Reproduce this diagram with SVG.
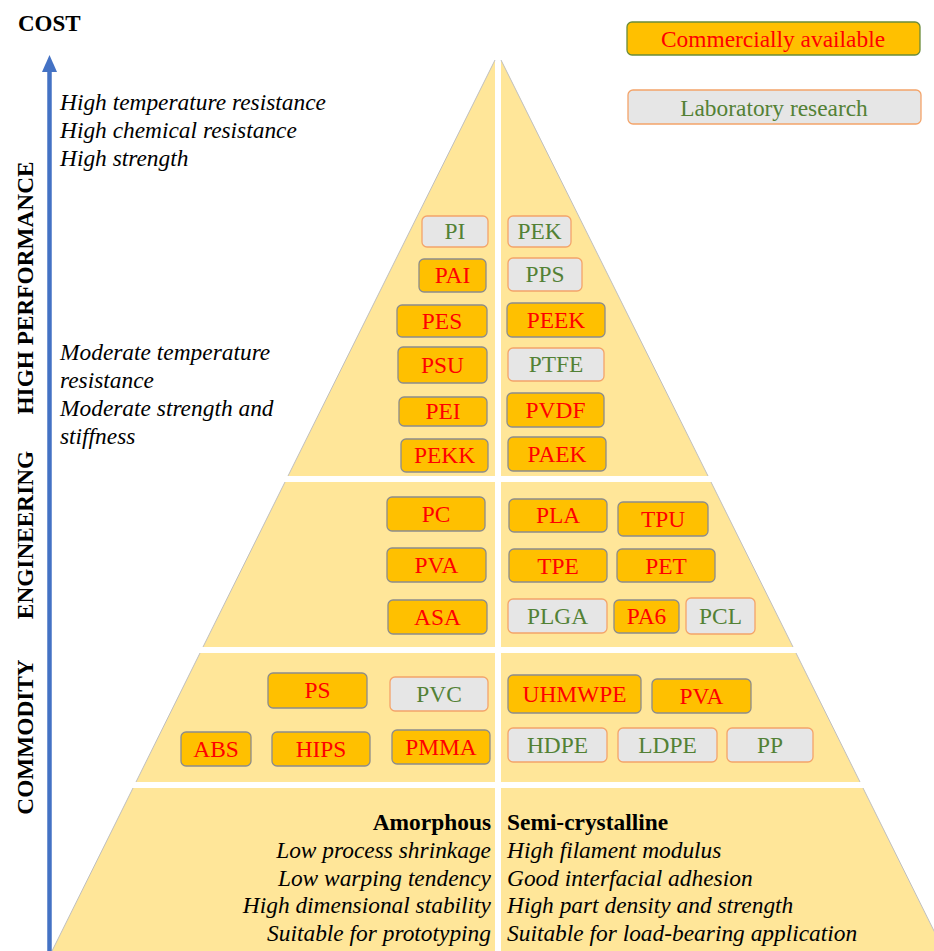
<svg xmlns="http://www.w3.org/2000/svg" width="934" height="951" viewBox="0 0 934 951">
<style>
.sec{fill:#FFE699;stroke:none}
.edge{stroke:#BFBFBF;stroke-width:1;fill:none}
.com rect{fill:#FFC000;stroke:#8C8C8C;stroke-width:1.3}
.com text{fill:#FF0000}
.lab rect{fill:#E6E6E6;stroke:#F4A46A;stroke-width:1.3}
.lab text{fill:#538135}
.bx{font-family:"Liberation Serif","Times New Roman",serif;font-size:23.4px;text-anchor:middle}
.it{font-family:"Liberation Serif","Times New Roman",serif;font-size:23.4px;font-style:italic;fill:#000}
.bd{font-family:"Liberation Serif","Times New Roman",serif;font-size:23.4px;font-weight:bold;fill:#000}
.vl{font-family:"Liberation Serif","Times New Roman",serif;font-size:23.3px;font-weight:bold;fill:#000;text-anchor:middle}
</style>
<rect width="934" height="951" fill="#FFFFFF"/>

<g id="pyramid">
<polygon class="sec" points="495,60 495,476 288,476"/>
<polygon class="sec" points="501,60 501,476 708,476"/>
<polygon class="sec" points="285,482 495,482 495,647 203,647"/>
<polygon class="sec" points="501,482 711,482 793,647 501,647"/>
<polygon class="sec" points="200,653 495,653 495,782 136,782"/>
<polygon class="sec" points="501,653 796,653 860,782 501,782"/>
<polygon class="sec" points="133,788 495,788 495,951 52,951"/>
<polygon class="sec" points="501,788 863,788 944,951 501,951"/>
<line class="edge" x1="495" y1="60" x2="288" y2="476"/>
<line class="edge" x1="501" y1="60" x2="708" y2="476"/>
<line class="edge" x1="285" y1="482" x2="203" y2="647"/>
<line class="edge" x1="711" y1="482" x2="793" y2="647"/>
<line class="edge" x1="200" y1="653" x2="136" y2="782"/>
<line class="edge" x1="796" y1="653" x2="860" y2="782"/>
<line class="edge" x1="133" y1="788" x2="52" y2="951"/>
<line class="edge" x1="863" y1="788" x2="944" y2="951"/>
</g>

<g id="connectors">
<line x1="49.5" y1="951" x2="49.5" y2="72" stroke="#4472C4" stroke-width="4.5"/>
<polygon points="49.5,55 42,72 57,72" fill="#4472C4"/>
</g>

<g id="axis-label"><text x="18" y="31" class="bd" style="font-size:23px">COST</text></g>
<g id="label-hp"><text class="vl" transform="translate(33,288) rotate(-90)">HIGH PERFORMANCE</text></g>
<g id="label-eng"><text class="vl" transform="translate(33,535) rotate(-90)">ENGINEERING</text></g>
<g id="label-com"><text class="vl" transform="translate(33,737) rotate(-90)">COMMODITY</text></g>

<g id="desc-hp">
<text class="it" x="60" y="110">High temperature resistance</text>
<text class="it" x="60" y="138">High chemical resistance</text>
<text class="it" x="60" y="166">High strength</text>
</g>
<g id="desc-eng">
<text class="it" x="60" y="360">Moderate temperature</text>
<text class="it" x="60" y="388">resistance</text>
<text class="it" x="60" y="416">Moderate strength and</text>
<text class="it" x="60" y="444">stiffness</text>
</g>
<g id="desc-amorphous">
<text class="bd" x="491" y="830" text-anchor="end">Amorphous</text>
<text class="it" x="491" y="858" text-anchor="end">Low process shrinkage</text>
<text class="it" x="491" y="886" text-anchor="end">Low warping tendency</text>
<text class="it" x="491" y="913" text-anchor="end">High dimensional stability</text>
<text class="it" x="491" y="941" text-anchor="end">Suitable for prototyping</text>
</g>
<g id="desc-semicrystalline">
<text class="bd" x="507" y="830">Semi-crystalline</text>
<text class="it" x="507" y="858">High filament modulus</text>
<text class="it" x="507" y="886">Good interfacial adhesion</text>
<text class="it" x="507" y="913">High part density and strength</text>
<text class="it" x="507" y="941">Suitable for load-bearing application</text>
</g>

<g id="legend-commercial" class="com"><rect x="627" y="22" width="293" height="33" rx="5" style="stroke:#6A8C3A"/><text class="bx" x="773" y="47">Commercially available</text></g>
<g id="legend-lab" class="lab"><rect x="628" y="90" width="293" height="34" rx="5"/><text class="bx" x="774" y="116">Laboratory research</text></g>

<g id="PI" class="lab"><rect x="422" y="216" width="66" height="31" rx="5"/><text class="bx" x="455" y="239">PI</text></g>
<g id="PEK" class="lab"><rect x="508" y="216" width="63" height="31" rx="5"/><text class="bx" x="539.5" y="239">PEK</text></g>
<g id="PAI" class="com"><rect x="419" y="259" width="67" height="33" rx="5"/><text class="bx" x="452.5" y="283">PAI</text></g>
<g id="PPS" class="lab"><rect x="508" y="258" width="74" height="33" rx="5"/><text class="bx" x="545" y="282">PPS</text></g>
<g id="PES" class="com"><rect x="397" y="305" width="90" height="32" rx="5"/><text class="bx" x="442" y="329">PES</text></g>
<g id="PEEK" class="com"><rect x="507" y="303" width="98" height="34" rx="5"/><text class="bx" x="556" y="328">PEEK</text></g>
<g id="PSU" class="com"><rect x="398" y="347" width="89" height="36" rx="5"/><text class="bx" x="442.5" y="373">PSU</text></g>
<g id="PTFE" class="lab"><rect x="508" y="348" width="96" height="33" rx="5"/><text class="bx" x="556" y="372">PTFE</text></g>
<g id="PEI" class="com"><rect x="399" y="397" width="88" height="29" rx="5"/><text class="bx" x="443" y="419">PEI</text></g>
<g id="PVDF" class="com"><rect x="507" y="393" width="97" height="34" rx="5"/><text class="bx" x="555.5" y="418">PVDF</text></g>
<g id="PEKK" class="com"><rect x="401" y="439" width="87" height="33" rx="5"/><text class="bx" x="444.5" y="463">PEKK</text></g>
<g id="PAEK" class="com"><rect x="508" y="437" width="98" height="34" rx="5"/><text class="bx" x="557" y="462">PAEK</text></g>

<g id="PC" class="com"><rect x="387" y="497" width="98" height="34" rx="5"/><text class="bx" x="436" y="522">PC</text></g>
<g id="PVA-eng" class="com"><rect x="387" y="548" width="99" height="34" rx="5"/><text class="bx" x="436.5" y="573">PVA</text></g>
<g id="ASA" class="com"><rect x="388" y="600" width="99" height="34" rx="5"/><text class="bx" x="437.5" y="625">ASA</text></g>
<g id="PLA" class="com"><rect x="509" y="499" width="98" height="33" rx="5"/><text class="bx" x="558" y="523">PLA</text></g>
<g id="TPU" class="com"><rect x="618" y="502" width="90" height="34" rx="5"/><text class="bx" x="663" y="527">TPU</text></g>
<g id="TPE" class="com"><rect x="509" y="549" width="98" height="33" rx="5"/><text class="bx" x="558" y="574">TPE</text></g>
<g id="PET" class="com"><rect x="617" y="549" width="98" height="33" rx="5"/><text class="bx" x="666" y="574">PET</text></g>
<g id="PLGA" class="lab"><rect x="508" y="599" width="99" height="34" rx="5"/><text class="bx" x="557.5" y="624">PLGA</text></g>
<g id="PA6" class="com"><rect x="614" y="600" width="65" height="33" rx="5"/><text class="bx" x="646.5" y="624">PA6</text></g>
<g id="PCL" class="lab"><rect x="686" y="598" width="69" height="36" rx="5"/><text class="bx" x="720.5" y="624">PCL</text></g>

<g id="PS" class="com"><rect x="268" y="673" width="99" height="35" rx="5"/><text class="bx" x="317.5" y="698">PS</text></g>
<g id="PVC" class="lab"><rect x="390" y="677" width="98" height="34" rx="5"/><text class="bx" x="439" y="702">PVC</text></g>
<g id="ABS" class="com"><rect x="181" y="732" width="70" height="34" rx="5"/><text class="bx" x="216" y="757">ABS</text></g>
<g id="HIPS" class="com"><rect x="272" y="732" width="98" height="34" rx="5"/><text class="bx" x="321" y="757">HIPS</text></g>
<g id="PMMA" class="com"><rect x="392" y="730" width="98" height="34" rx="5"/><text class="bx" x="441" y="755">PMMA</text></g>
<g id="UHMWPE" class="com"><rect x="508" y="675" width="133" height="38" rx="5"/><text class="bx" x="574.5" y="702">UHMWPE</text></g>
<g id="PVA-com" class="com"><rect x="652" y="679" width="99" height="34" rx="5"/><text class="bx" x="701.5" y="704">PVA</text></g>
<g id="HDPE" class="lab"><rect x="508" y="728" width="99" height="34" rx="5"/><text class="bx" x="557.5" y="753">HDPE</text></g>
<g id="LDPE" class="lab"><rect x="618" y="728" width="99" height="34" rx="5"/><text class="bx" x="667.5" y="753">LDPE</text></g>
<g id="PP" class="lab"><rect x="727" y="728" width="86" height="34" rx="5"/><text class="bx" x="770" y="753">PP</text></g>
</svg>
